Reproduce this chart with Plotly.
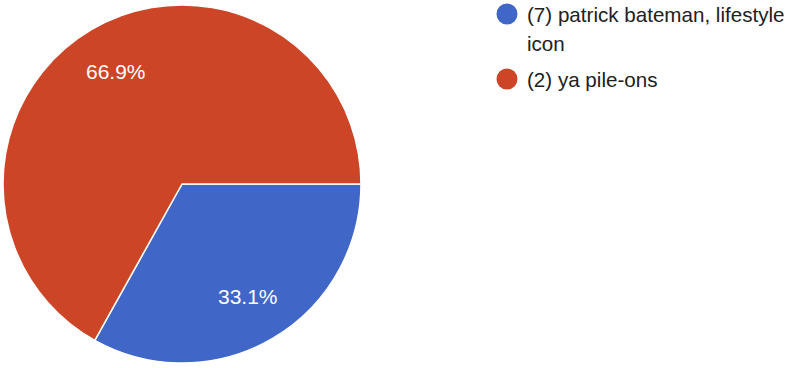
import math
import plotly.graph_objects as go

labels = ["(7) patrick bateman, lifestyle<br>icon", "(2) ya pile-ons"]
values = [33.1, 66.9]
colors = ["#4067c8", "#cc4527"]

W, H = 805, 368
CX, CY, R = 182, 184, 179
fig = go.Figure()
fig.add_trace(go.Pie(
    labels=labels, values=values, sort=False, direction="clockwise", rotation=90,
    marker=dict(colors=colors, line=dict(color="white", width=1.5)),
    textinfo="none",
    domain=dict(x=[(CX - R) / W, (CX + R) / W], y=[(H - CY - R) / H, (H - CY + R) / H]),
    showlegend=False, hoverinfo="label+percent",
))

# percent labels placed along each slice's mid-angle
total = sum(values)
start = 0.0
for v in values:
    frac = v / total
    mid = (start + frac / 2) * 2 * math.pi
    px = CX + 0.73 * R * math.cos(mid)
    py = CY + 0.73 * R * math.sin(mid)
    fig.add_annotation(text=f"{frac * 100:.1f}%", xref="paper", yref="paper",
                       x=px / W, y=1 - py / H, xanchor="center", yanchor="middle",
                       showarrow=False,
                       font=dict(family="Liberation Sans, Arial", size=21, color="white"))
    start += frac

# custom legend with circular markers
leg_y = [14, 79]
for lab, col, yy in zip(labels, colors, leg_y):
    fig.add_shape(type="circle", xref="paper", yref="paper",
                  x0=496.5 / W, x1=517.5 / W, y0=1 - (yy + 10.5) / H, y1=1 - (yy - 10.5) / H,
                  fillcolor=col, line=dict(width=0))
    for i, line in enumerate(lab.split("<br>")):
        fig.add_annotation(text=line, xref="paper", yref="paper", x=525 / W,
                           y=1 - (yy + 30 * i) / H,
                           xanchor="left", yanchor="middle", showarrow=False, align="left",
                           font=dict(family="Liberation Sans, Arial", size=20.6, color="#212121"))

fig.update_layout(width=W, height=H, margin=dict(l=0, r=0, t=0, b=0),
                  paper_bgcolor="white", plot_bgcolor="white")
fig.write_html("out.html")
